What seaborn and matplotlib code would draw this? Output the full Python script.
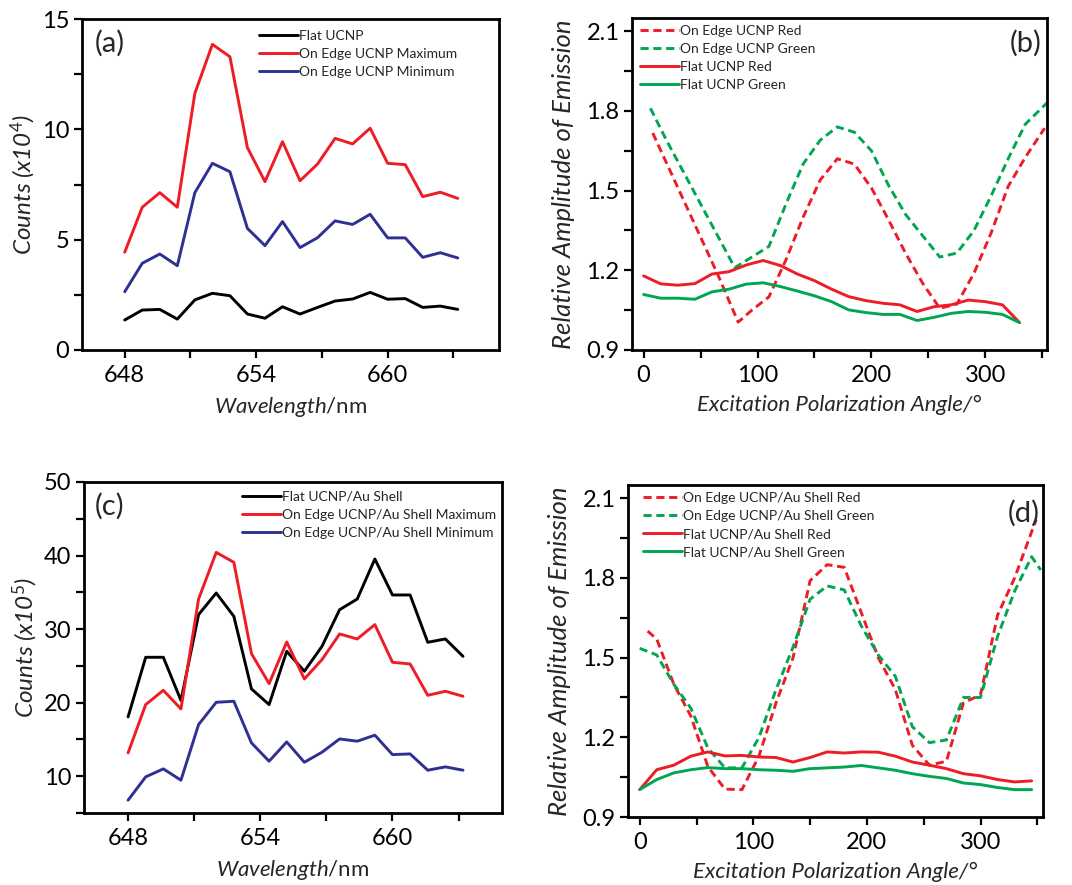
import matplotlib
matplotlib.use('Agg')
import matplotlib.pyplot as plt
import seaborn as sns

# ---------------- data ----------------
wavelength = [648.0, 648.8, 649.6, 650.4, 651.2, 652.0, 652.8, 653.6, 654.4, 655.2,
              656.0, 656.8, 657.6, 658.4, 659.2, 660.0, 660.8, 661.6, 662.4, 663.2]

# panel (a), counts x10^4
a_flat = [1.36, 1.81, 1.84, 1.40, 2.27, 2.57, 2.46, 1.63, 1.44, 1.96,
          1.63, 1.93, 2.22, 2.31, 2.61, 2.30, 2.33, 1.93, 1.99, 1.84]
a_edge_max = [4.43, 6.47, 7.13, 6.47, 11.63, 13.85, 13.29, 9.17, 7.63, 9.44,
              7.67, 8.43, 9.59, 9.34, 10.05, 8.46, 8.40, 6.95, 7.15, 6.87]
a_edge_min = [2.64, 3.93, 4.35, 3.82, 7.13, 8.46, 8.08, 5.51, 4.73, 5.82,
              4.64, 5.09, 5.85, 5.69, 6.15, 5.08, 5.08, 4.20, 4.41, 4.17]

# panel (c), counts x10^5
c_flat = [18.06, 26.17, 26.17, 20.3, 31.97, 34.91, 31.74, 21.87, 19.74, 26.98,
          24.27, 27.66, 32.64, 34.09, 39.53, 34.64, 34.64, 28.21, 28.66, 26.30]
c_edge_max = [13.17, 19.74, 21.68, 19.15, 34.09, 40.43, 39.08, 26.67, 22.59, 28.25,
              23.22, 25.85, 29.34, 28.66, 30.61, 25.49, 25.26, 21.0, 21.55, 20.87]
c_edge_min = [6.74, 9.91, 11.0, 9.46, 17.02, 20.05, 20.19, 14.53, 12.04, 14.66,
              11.90, 13.26, 15.07, 14.76, 15.58, 12.94, 13.03, 10.82, 11.27, 10.82]

# panel (b)
b_flat_angle = [0, 15, 30, 45, 60, 75, 90, 105, 120, 135, 150, 165, 180, 195, 210,
                225, 240, 255, 270, 285, 300, 315, 330]
b_flat_red = [1.179, 1.149, 1.144, 1.150, 1.186, 1.195, 1.220, 1.237, 1.218, 1.186,
              1.161, 1.129, 1.101, 1.086, 1.076, 1.070, 1.045, 1.063, 1.070, 1.088,
              1.082, 1.070, 1.003]
b_flat_green = [1.109, 1.095, 1.095, 1.091, 1.119, 1.129, 1.148, 1.153, 1.139, 1.122,
                1.104, 1.082, 1.051, 1.041, 1.034, 1.034, 1.011, 1.023, 1.038, 1.045,
                1.042, 1.034, 1.003]
b_edge_red_angle = [8, 20, 35, 50, 65, 83, 95, 110, 125, 140, 155, 170, 185, 200, 215,
                    230, 245, 260, 275, 290, 305, 320, 335, 352]
b_edge_red = [1.717, 1.605, 1.465, 1.325, 1.185, 1.005, 1.05, 1.10, 1.24, 1.40, 1.54,
              1.62, 1.60, 1.51, 1.39, 1.264, 1.151, 1.057, 1.073, 1.189, 1.34, 1.516,
              1.625, 1.735]
b_edge_green_angle = [6, 20, 35, 50, 65, 80, 95, 110, 125, 140, 155, 170, 185, 200, 215,
                      230, 245, 260, 275, 290, 305, 320, 335, 354]
b_edge_green = [1.81, 1.69, 1.57, 1.45, 1.33, 1.21, 1.25, 1.29, 1.45, 1.60, 1.69, 1.74,
                1.72, 1.65, 1.52, 1.41, 1.33, 1.25, 1.265, 1.35, 1.48, 1.62, 1.75, 1.83]

# panel (d)
d_flat_angle = [0, 15, 30, 45, 60, 75, 90, 105, 120, 135, 150, 165, 180, 195, 210,
                225, 240, 255, 270, 285, 300, 315, 330, 345]
d_flat_red = [1.003, 1.078, 1.095, 1.129, 1.145, 1.130, 1.132, 1.126, 1.124, 1.107,
              1.124, 1.145, 1.141, 1.145, 1.144, 1.129, 1.107, 1.095, 1.082, 1.063,
              1.055, 1.041, 1.032, 1.036]
d_flat_green = [1.003, 1.041, 1.066, 1.078, 1.086, 1.082, 1.082, 1.078, 1.076, 1.072,
                1.082, 1.085, 1.088, 1.094, 1.085, 1.076, 1.063, 1.053, 1.045, 1.028,
                1.022, 1.011, 1.003, 1.003]
d_edge_red_angle = [7, 15, 30, 45, 60, 75, 90, 105, 120, 135, 150, 165, 180, 195, 210,
                    225, 240, 255, 270, 285, 300, 315, 330, 349]
d_edge_red = [1.60, 1.57, 1.40, 1.28, 1.09, 1.005, 1.003, 1.13, 1.33, 1.50, 1.79, 1.85,
              1.84, 1.67, 1.50, 1.38, 1.17, 1.095, 1.11, 1.33, 1.36, 1.66, 1.80, 2.02]
d_edge_green_angle = [0, 15, 30, 45, 60, 75, 90, 105, 120, 135, 150, 165, 180, 195, 210,
                      225, 240, 255, 270, 285, 300, 315, 330, 345, 353]
d_edge_green = [1.535, 1.51, 1.40, 1.31, 1.16, 1.085, 1.085, 1.20, 1.38, 1.54, 1.72,
                1.77, 1.755, 1.62, 1.51, 1.43, 1.24, 1.18, 1.19, 1.35, 1.35, 1.58, 1.75,
                1.88, 1.83]

# ---------------- style ----------------
sns.set_style('ticks')
FONT = 'Lato'
plt.rcParams['font.family'] = [FONT, 'DejaVu Sans']
plt.rcParams['mathtext.fontset'] = 'custom'
plt.rcParams['mathtext.rm'] = FONT
plt.rcParams['mathtext.it'] = FONT + ':italic'
plt.rcParams['axes.edgecolor'] = 'black'
plt.rcParams['xtick.color'] = 'black'
plt.rcParams['ytick.color'] = 'black'

RED = '#ee1c25'
BLUE = '#2e3192'
GREEN = '#00a651'
BLACK = '#000000'
LW = 2.1
DASH = (0, (2.8, 1.6))
TICK_FS = 17
XLAB_FS = 16
CNT_FS = 17.5
REL_FS = 18.5
LEG_FS = 10
PANEL_FS = 21

fig = plt.figure(figsize=(10.72, 8.85), dpi=100)
W, H = 1072, 885


def make_ax(l, t, r, b):
    return fig.add_axes([l / W, 1 - b / H, (r - l) / W, (b - t) / H])


ax_a = make_ax(82, 19, 499, 350)
ax_b = make_ax(632, 18, 1047, 350)
ax_c = make_ax(84, 482, 502, 813)
ax_d = make_ax(628, 485, 1043, 817)


def style(ax, xlim, ylim, xt, xtm, yt, ytm):
    ax.set_xlim(*xlim)
    ax.set_ylim(*ylim)
    ax.set_xticks(xt)
    ax.set_xticks(xtm, minor=True)
    ax.set_yticks(yt)
    ax.set_yticks(ytm, minor=True)
    for s in ax.spines.values():
        s.set_linewidth(2.0)
        s.set_color('black')
    ax.tick_params(which='both', direction='out', top=False, right=False,
                   width=1.6, length=6, labelsize=TICK_FS)
    ax.tick_params(axis='x', which='both', pad=5)
    ax.tick_params(axis='y', which='both', pad=3)


def legend(ax, x, y):
    ax.legend(loc='upper left', bbox_to_anchor=(x, y), frameon=False, fontsize=LEG_FS,
              handlelength=2.8, handletextpad=0.1, labelspacing=0.44, borderpad=0,
              borderaxespad=0)


# ---- (a)
sns.lineplot(x=wavelength, y=a_flat, ax=ax_a, color=BLACK, lw=LW, label='Flat UCNP')
sns.lineplot(x=wavelength, y=a_edge_max, ax=ax_a, color=RED, lw=LW,
             label='On Edge UCNP Maximum')
sns.lineplot(x=wavelength, y=a_edge_min, ax=ax_a, color=BLUE, lw=LW,
             label='On Edge UCNP Minimum')
style(ax_a, (646.05, 665.08), (0, 15), [648, 654, 660], [651, 657, 663],
      [0, 5, 10, 15], [2.5, 7.5, 12.5])
legend(ax_a, 0.424, 0.967)
ax_a.set_ylabel('Counts (x10$^{4}$)', fontsize=CNT_FS, style='italic', labelpad=3)
ax_a.set_xlabel(r'$\mathit{Wavelength}$/nm', fontsize=XLAB_FS, labelpad=6)
ax_a.text(0.031, 0.926, '(a)', transform=ax_a.transAxes, fontsize=PANEL_FS,
          va='center', ha='left')

# ---- (b)
sns.lineplot(x=b_edge_red_angle, y=b_edge_red, ax=ax_b, color=RED, lw=LW,
             linestyle=DASH, label='On Edge UCNP Red')
sns.lineplot(x=b_edge_green_angle, y=b_edge_green, ax=ax_b, color=GREEN, lw=LW,
             linestyle=DASH, label='On Edge UCNP Green')
sns.lineplot(x=b_flat_angle, y=b_flat_red, ax=ax_b, color=RED, lw=LW, label='Flat UCNP Red')
sns.lineplot(x=b_flat_angle, y=b_flat_green, ax=ax_b, color=GREEN, lw=LW,
             label='Flat UCNP Green')
style(ax_b, (-10.2, 354.1), (0.9, 2.15), [0, 100, 200, 300], [50, 150, 250, 350],
      [0.9, 1.2, 1.5, 1.8, 2.1], [1.05, 1.35, 1.65, 1.95])
legend(ax_b, 0.019, 0.98)
ax_b.set_ylabel('Relative Amplitude of Emission', fontsize=REL_FS, style='italic',
                labelpad=8)
ax_b.set_xlabel('Excitation Polarization Angle/°', fontsize=XLAB_FS, style='italic',
                labelpad=6)
ax_b.text(0.988, 0.925, '(b)', transform=ax_b.transAxes, fontsize=PANEL_FS,
          va='center', ha='right')

# ---- (c)
sns.lineplot(x=wavelength, y=c_flat, ax=ax_c, color=BLACK, lw=LW,
             label='Flat UCNP/Au Shell')
sns.lineplot(x=wavelength, y=c_edge_max, ax=ax_c, color=RED, lw=LW,
             label='On Edge UCNP/Au Shell Maximum')
sns.lineplot(x=wavelength, y=c_edge_min, ax=ax_c, color=BLUE, lw=LW,
             label='On Edge UCNP/Au Shell Minimum')
style(ax_c, (646.0, 664.97), (5, 50), [648, 654, 660], [651, 657, 663],
      [10, 20, 30, 40, 50], [5, 15, 25, 35, 45])
legend(ax_c, 0.378, 0.973)
ax_c.set_ylabel('Counts (x10$^{5}$)', fontsize=CNT_FS, style='italic', labelpad=3)
ax_c.set_xlabel(r'$\mathit{Wavelength}$/nm', fontsize=XLAB_FS, labelpad=6)
ax_c.text(0.026, 0.926, '(c)', transform=ax_c.transAxes, fontsize=PANEL_FS,
          va='center', ha='left')

# ---- (d)
sns.lineplot(x=d_edge_red_angle, y=d_edge_red, ax=ax_d, color=RED, lw=LW,
             linestyle=DASH, label='On Edge UCNP/Au Shell Red')
sns.lineplot(x=d_edge_green_angle, y=d_edge_green, ax=ax_d, color=GREEN, lw=LW,
             linestyle=DASH, label='On Edge UCNP/Au Shell Green')
sns.lineplot(x=d_flat_angle, y=d_flat_red, ax=ax_d, color=RED, lw=LW,
             label='Flat UCNP/Au Shell Red')
sns.lineplot(x=d_flat_angle, y=d_flat_green, ax=ax_d, color=GREEN, lw=LW,
             label='Flat UCNP/Au Shell Green')
style(ax_d, (-10.3, 355.0), (0.9, 2.15), [0, 100, 200, 300], [50, 150, 250, 350],
      [0.9, 1.2, 1.5, 1.8, 2.1], [1.05, 1.35, 1.65, 1.95])
legend(ax_d, 0.036, 0.979)
ax_d.set_ylabel('Relative Amplitude of Emission', fontsize=REL_FS, style='italic',
                labelpad=8)
ax_d.set_xlabel('Excitation Polarization Angle/°', fontsize=XLAB_FS, style='italic',
                labelpad=6)
ax_d.text(0.993, 0.914, '(d)', transform=ax_d.transAxes, fontsize=PANEL_FS,
          va='center', ha='right')

fig.savefig('out.png', dpi=100)
